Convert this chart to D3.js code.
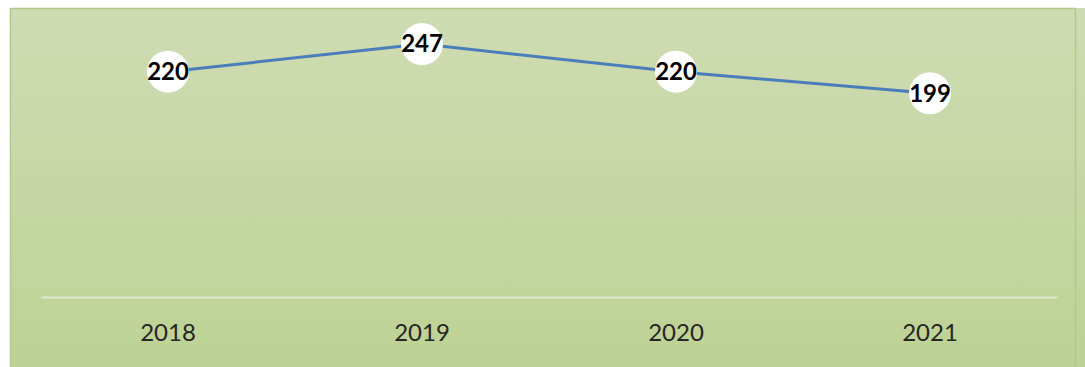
<!DOCTYPE html>
<html>
<head>
<meta charset="utf-8">
<script src="https://cdn.jsdelivr.net/npm/d3@7"></script>
<style>
  body { margin: 0; background: #fff; }
  svg { display: block; }
</style>
</head>
<body>
<svg id="chart" width="1085" height="367"></svg>
<script>
const years = ["2018", "2019", "2020", "2021"];
const values = [220, 247, 220, 199];

const svg = d3.select("#chart"),
    width = +svg.attr("width"),
    height = +svg.attr("height");

// background gradient, lighter at the top
const defs = svg.append("defs");
const grad = defs.append("linearGradient")
    .attr("id", "bg").attr("x1", 0).attr("y1", 0).attr("x2", 0).attr("y2", 1);
grad.append("stop").attr("offset", "0%").attr("stop-color", "#cfdcb3");
grad.append("stop").attr("offset", "100%").attr("stop-color", "#bdd294");

svg.append("rect")
    .attr("x", 10).attr("y", 8)
    .attr("width", width - 10).attr("height", height - 8)
    .attr("fill", "url(#bg)");
// panel border
svg.append("path")
    .attr("d", "M10.5," + height + "V8.5H1075.5V" + height)
    .attr("fill", "none")
    .attr("stroke", "#b3c98a")
    .attr("stroke-width", 1.5);

let x = d3.scaleBand()
    .domain(years)
    .range([41, 1057]);

let y = d3.scaleLinear()
    .domain([0, 250])
    .range([297, 41]);

// category axis
let xAxis = svg.append("g")
    .attr("transform", "translate(0," + y(0) + ")")
    .call(d3.axisBottom(x).tickSize(0).tickPadding(27));
xAxis.select(".domain")
    .attr("stroke", "#dfe8cc")
    .attr("stroke-width", 2);
xAxis.selectAll("text")
    .attr("font-family", "Lato, 'Open Sans', sans-serif")
    .attr("font-size", 24)
    .attr("fill", "#262626");

let line = d3.line()
    .x(function(d, i) { return x(years[i]) + x.bandwidth() / 2; })
    .y(function(d) { return y(d); });

svg.append("path")
    .datum(values)
    .attr("d", line)
    .attr("fill", "none")
    .attr("stroke", "#4a7ebb")
    .attr("stroke-width", 3);

let pts = svg.selectAll("g.pt")
  .data(values)
  .enter().append("g")
    .attr("class", "pt")
    .attr("transform", function(d, i) {
      return "translate(" + (x(years[i]) + x.bandwidth() / 2) + "," + y(d) + ")";
    });

pts.append("circle")
    .attr("r", 21)
    .attr("fill", "#ffffff");

pts.append("text")
    .attr("text-anchor", "middle")
    .attr("dy", "0.35em")
    .attr("font-family", "Lato, 'Open Sans', sans-serif")
    .attr("font-weight", "bold")
    .attr("font-size", 24)
    .attr("fill", "#000")
    .text(function(d) { return d; });
</script>
</body>
</html>
